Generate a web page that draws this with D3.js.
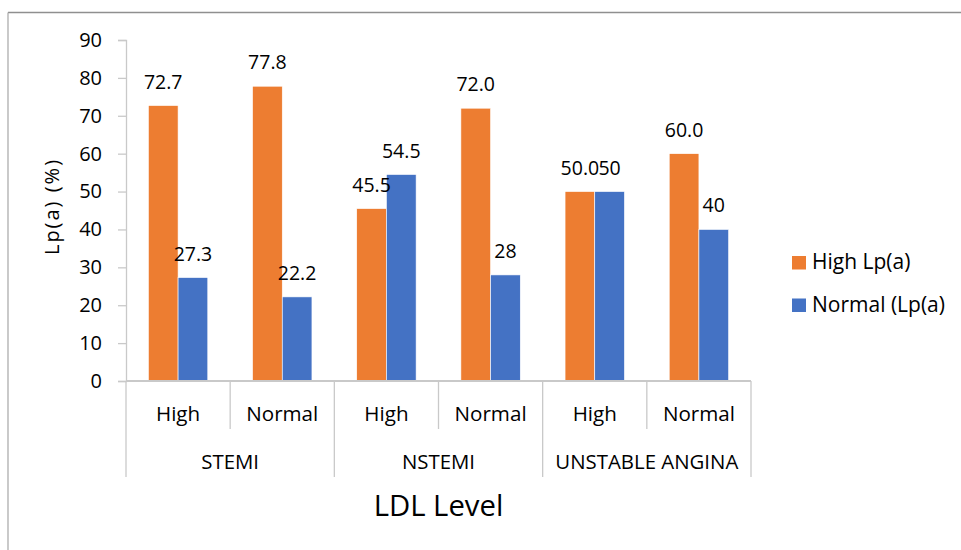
<!DOCTYPE html>
<html>
<head>
<meta charset="utf-8">
<script src="https://cdn.jsdelivr.net/npm/d3@7"></script>
<style>
  html, body { margin: 0; padding: 0; background: #fff; }
  svg { display: block; font-family: "Open Sans", sans-serif; }
</style>
</head>
<body>
<svg id="chart" width="961" height="550"></svg>
<script>
// Lp(a) distribution by LDL level within each ACS type
const groups = ["STEMI", "NSTEMI", "UNSTABLE ANGINA"];
const ldlLevels = ["High", "Normal"];
const seriesNames = ["High Lp(a)", "Normal (Lp(a)"];
const highLpaLabels = ["72.7", "77.8", "45.5", "72.0", "50.0", "60.0"];
const normalLpaLabels = ["27.3", "22.2", "54.5", "28", "50", "40"];
const highLpa = highLpaLabels.map(Number);
const normalLpa = normalLpaLabels.map(Number);
const yTicks = [0, 10, 20, 30, 40, 50, 60, 70, 80, 90];
const colors = ["#ED7D31", "#4472C4"];

const svg = d3.select("#chart");

// frame
svg.append("line").attr("x1", 8).attr("x2", 961).attr("y1", 12.5).attr("y2", 12.5)
  .attr("stroke", "#8f8f8f").attr("stroke-width", 1.5);
svg.append("line").attr("x1", 8).attr("x2", 8).attr("y1", 12.5).attr("y2", 550)
  .attr("stroke", "#a6a6a6").attr("stroke-width", 1.2);

const plot = { left: 126, right: 751, top: 40, bottom: 381 };

// category rows: each group split into its two LDL levels
const cats = [];
groups.forEach(g => ldlLevels.forEach(l => cats.push({ group: g, level: l })));
cats.forEach((c, i) => { c.key = i; c.values = [highLpa[i], normalLpa[i]]; c.labels = [highLpaLabels[i], normalLpaLabels[i]]; });

const x = d3.scaleBand().domain(cats.map(c => c.key)).range([plot.left, plot.right]).padding(0);
const xs = d3.scaleBand().domain([0, 1]).range([0, x.bandwidth()]).paddingInner(0).paddingOuter(0.754);
const y = d3.scaleLinear().domain([0, 90]).range([plot.bottom, plot.top]);

// y axis
const yAxis = svg.append("g").attr("transform", `translate(${plot.left},0)`)
  .call(d3.axisLeft(y).tickValues(yTicks).tickSize(8).tickPadding(16));
yAxis.select(".domain").attr("stroke", "#c9c9c9").attr("stroke-width", 1.3);
yAxis.selectAll(".tick line").attr("stroke", "#c9c9c9").attr("stroke-width", 1.3);
yAxis.selectAll(".tick text").attr("fill", "#000").style("font-size", "20px")
  .style("font-family", "'Open Sans', sans-serif");

// bars
const gCat = svg.append("g").selectAll("g").data(cats).join("g")
  .attr("transform", c => `translate(${x(c.key)},0)`);

gCat.selectAll("rect").data(c => c.values.map((v, s) => ({ v, s })))
  .join("rect")
  .attr("x", d => xs(d.s))
  .attr("width", xs.bandwidth())
  .attr("y", d => y(d.v))
  .attr("height", d => y(0) - y(d.v))
  .attr("fill", d => colors[d.s])
  .attr("stroke", "#fff").attr("stroke-width", 0.6);

// data labels
gCat.selectAll("text.val").data(c => c.values.map((v, s) => ({ v, s, t: c.labels[s] })))
  .join("text").attr("class", "val")
  .attr("x", d => xs(d.s) + xs.bandwidth() / 2)
  .attr("y", d => y(d.v) - 17)
  .attr("text-anchor", "middle")
  .style("font-size", "19.5px")
  .attr("fill", "#000")
  .text(d => d.t);

// x baseline and category separators
const sep = svg.append("g").attr("stroke", "#c9c9c9").attr("stroke-width", 1.3);
sep.append("line").attr("x1", plot.left).attr("x2", plot.right)
  .attr("y1", y(0)).attr("y2", y(0)).attr("stroke-width", 2);
const edges = d3.range(cats.length + 1).map(i => plot.left + i * x.step());
edges.forEach((ex, i) => {
  sep.append("line").attr("x1", ex).attr("x2", ex).attr("y1", y(0))
    .attr("y2", i % 2 === 0 ? 477 : 429);
});

// level labels
svg.append("g").selectAll("text").data(cats).join("text")
  .attr("x", c => x(c.key) + x.bandwidth() / 2)
  .attr("y", 421)
  .attr("text-anchor", "middle")
  .style("font-size", "20.6px")
  .attr("fill", "#000")
  .text(c => c.level);

// group labels
svg.append("g").selectAll("text").data(groups).join("text")
  .attr("x", (g, i) => plot.left + (i * 2 + 1) * x.step())
  .attr("y", 469)
  .attr("text-anchor", "middle")
  .style("font-size", "20.4px")
  .attr("fill", "#000")
  .text(g => g);

// axis titles
svg.append("text")
  .attr("x", (plot.left + plot.right) / 2).attr("y", 515.5)
  .attr("text-anchor", "middle")
  .style("font-size", "29.3px")
  .attr("fill", "#000")
  .text("LDL Level");

svg.append("text")
  .attr("transform", `translate(59,${(plot.top + plot.bottom) / 2 - 4}) rotate(-90)`)
  .attr("text-anchor", "middle")
  .style("font-size", "20px")
  .style("letter-spacing", "2px")
  .attr("fill", "#000")
  .text("Lp(a) (%)");

// legend
const legend = svg.append("g").selectAll("g").data(seriesNames).join("g")
  .attr("transform", (d, i) => `translate(792,${256 + i * 42.5})`);
legend.append("rect").attr("width", 14).attr("height", 13.5).attr("fill", (d, i) => colors[i]);
legend.append("text").attr("x", 20).attr("y", 13.3)
  .style("font-size", "21px").attr("fill", "#000").text(d => d);
</script>
</body>
</html>
